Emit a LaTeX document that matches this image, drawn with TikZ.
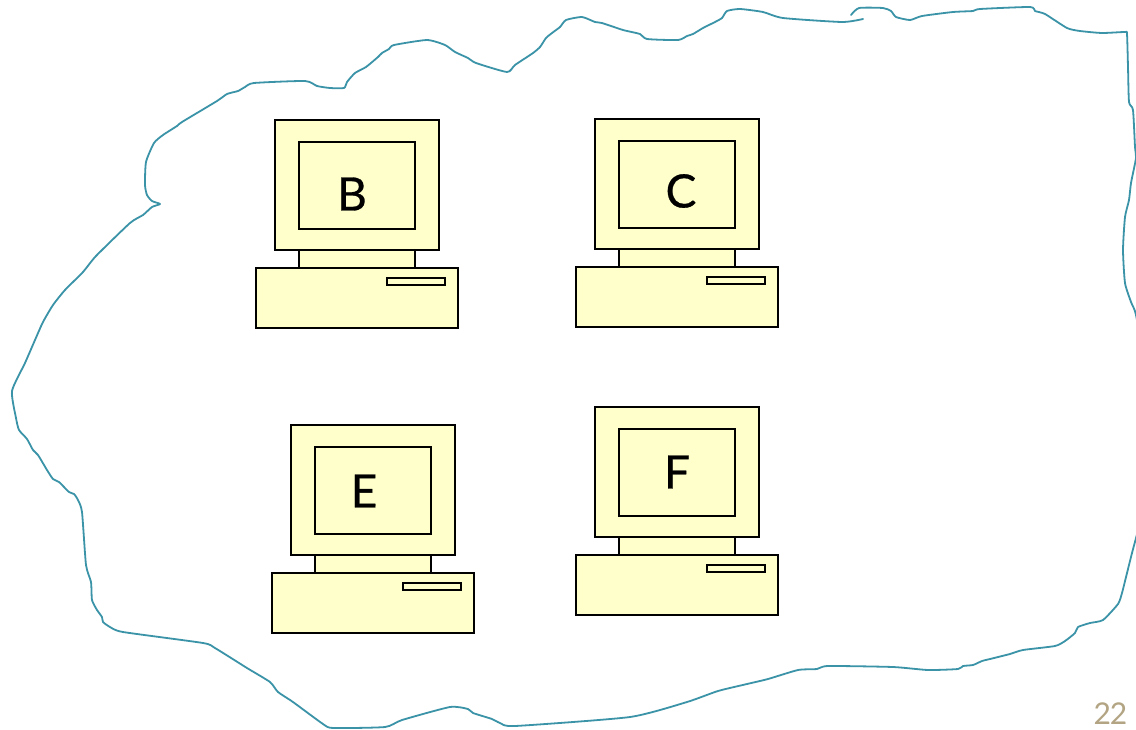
\documentclass[tikz,border=0pt]{standalone}
\usepackage{fontspec}
\setmainfont{Lato}
\newfontfamily\labfont[FakeBold=0.6]{Lato}
\newfontfamily\numfont[LetterSpace=-4]{Lato}
\definecolor{pcfill}{HTML}{FFFFCC}
\definecolor{cloudline}{HTML}{3B93A8}
\definecolor{pagenum}{HTML}{B3A583}
\tikzset{
  pcpart/.style={draw=black,fill=pcfill,line width=1.9pt,line join=miter},
  cloudstroke/.style={draw=cloudline,line width=1.8pt,line cap=round,line join=round},
  pclabel/.style={inner sep=0pt,font=\labfont\fontsize{46}{46}\selectfont,text=black},
  pageno/.style={inner sep=0pt,font=\numfont\fontsize{30}{30}\selectfont,text=pagenum},
  pics/computer/.style={code={
    \path[pcpart] (24,130) rectangle (140,148);
    \path[pcpart] (0,0) rectangle (164,130);
    \path[pcpart] (24,22) rectangle (140,109);
    \path[pcpart] (-19,148) rectangle (183,208);
    \path[pcpart,line width=1.6pt] (112,158) rectangle (170,165);
  }}
}
\begin{document}
\begin{tikzpicture}[x=1pt,y=-1pt]
\useasboundingbox (0,0) rectangle (1136,729);
\fill[white] (0,0) rectangle (1136,729);
\begin{scope}
\clip (0,0) rectangle (1136,729);
\draw[cloudstroke] plot[smooth,tension=0.35] coordinates {
 (851,15) (859,8) (883,8) (891,11) (896,17) (910,20) (922,16) (953,12) (973,11) (980,9) (1030,7)
 (1035,11) (1045,14) (1067,28) (1080,31) (1102,33) (1125,32) (1127,34) (1128,67) (1129,102)
 (1133,110) (1135,147) (1136,158) (1131,183) (1129,200) (1125,217) (1123,250) (1125,283)
 (1131,302) (1136,315) (1145,370) (1148,450) (1143,510) (1136,538) (1132,553) (1127,573)
 (1122,593) (1118,604) (1103,620) (1090,623) (1078,627) (1075,633) (1065,641) (1055,646)
 (1023,650) (1010,654) (1002,656) (990,659) (982,661) (973,665) (963,666) (958,669) (928,670)
 (893,667) (828,666) (817,669) (798,670) (768,679) (747,684) (718,691) (687,702) (630,717)
 (515,726) (500,723) (492,719) (473,713) (468,709) (450,707) (402,720) (385,727) (333,728)
 (323,724) (293,702) (278,692) (270,682) (247,668) (215,648) (203,643) (123,632) (110,627)
 (103,622) (102,617) (97,610) (92,600) (91,582) (86,565) (82,512) (78,500) (74,494) (69,492)
 (59,482) (53,479) (47,470) (38,455) (33,450) (27,439) (19,430) (16,418) (12,391) (25,363)
 (35,340) (43,322) (53,305) (65,290) (83,272) (96,256) (130,223) (143,215) (152,207) (160,204)
 (152,201) (147,195) (145,185) (146,162) (154,143) (163,135) (177,126) (182,122) (217,101)
 (227,94) (238,91) (245,87) (254,83) (305,81) (317,86) (330,88) (344,88) (347,82) (355,73)
 (366,67) (378,57) (382,53) (389,49) (394,45) (427,40) (445,45) (455,52) (468,58) (476,63)
 (507,72) (515,65) (533,53) (540,47) (546,38) (552,33) (560,27) (566,20) (582,17) (595,22)
 (602,23) (623,30) (640,34) (647,39) (678,40) (687,36) (693,34) (703,28) (715,22) (722,18)
 (727,11) (740,9) (763,12) (783,18) (842,22) (863,19)};
\end{scope}
\pic at (275,120) {computer};
\pic at (595,119) {computer};
\pic at (291,425) {computer};
\pic at (595,407) {computer};
\node[pclabel] (labB) at (352,194) {B};
\node[pclabel] (labC) at (681,191) {C};
\node[pclabel] (labE) at (364,491) {E};
\node[pclabel] (labF) at (677,472) {F};
\node[pageno] (pagenumber) at (1110.5,714) {22};
\end{tikzpicture}
\end{document}
